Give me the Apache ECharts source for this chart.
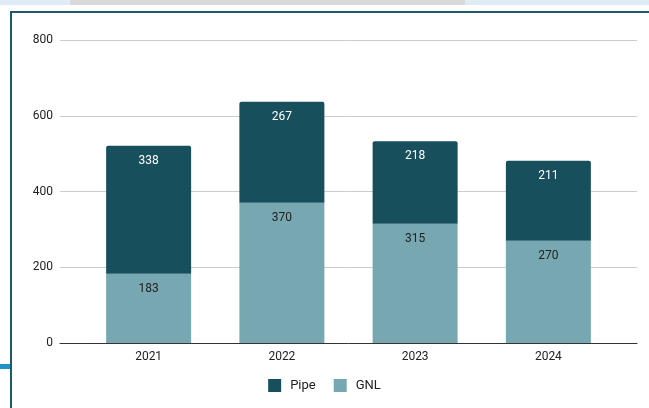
<!DOCTYPE html>
<html>
<head>
  <meta charset="UTF-8">
  <title>Pipe / GNL</title>
  <script src="https://cdn.jsdelivr.net/npm/echarts@6/dist/echarts.min.js"></script>
  <style>
    body { margin: 0; padding: 0; background: #fff; }
    #chart { width: 649px; height: 408px; }
  </style>
</head>
<body>
  <div id="chart"></div>
  <script>
    // data
    const years = ['2021', '2022', '2023', '2024'];
    const gnl = [183, 370, 315, 270];
    const pipe = [338, 267, 218, 211];
    const yTicks = [0, 200, 400, 600, 800];

    const pipeColor = '#174f5c';
    const gnlColor = '#77a7b1';
    const font = 'Roboto, Arial, sans-serif';

    const chart = echarts.init(document.getElementById('chart'));

    const option = {
      animation: false,
      textStyle: { fontFamily: font },
      // bits of the surrounding page frame
      graphic: [
        { type: 'rect', shape: { x: 0, y: 0, width: 649, height: 5 }, style: { fill: '#dfecf6' } },
        { type: 'rect', shape: { x: 70, y: 0, width: 395, height: 5 }, style: { fill: '#d9d9d9' } },
        { type: 'rect', shape: { x: 10, y: 11, width: 639, height: 2 }, style: { fill: '#1a5a6a' } },
        { type: 'rect', shape: { x: 10, y: 11, width: 2, height: 397 }, style: { fill: '#1a5a6a' } },
        { type: 'rect', shape: { x: 0, y: 364, width: 10, height: 5 }, style: { fill: '#1c95c4' } }
      ],
      legend: {
        data: ['Pipe', 'GNL'],
        top: 379,
        left: 'center',
        padding: 0,
        itemWidth: 13,
        itemHeight: 13,
        itemGap: 18,
        icon: 'rect',
        textStyle: { color: '#222', fontSize: 13, padding: [0, 0, 0, 4] }
      },
      grid: [
        { left: 60, right: 12, top: 40, bottom: 65 },
        { left: 82, right: 34, top: 40, bottom: 65 }
      ],
      xAxis: [
        {
          type: 'value', gridIndex: 0, min: 0, max: 1,
          axisLine: { show: true, onZero: false, lineStyle: { color: '#333', width: 1 } },
          axisTick: { show: false }, axisLabel: { show: false }, splitLine: { show: false }
        },
        {
          type: 'category', gridIndex: 1, data: years,
          axisLine: { show: false }, axisTick: { show: false },
          axisLabel: { color: '#222', fontSize: 12, margin: 8 }
        }
      ],
      yAxis: [
        {
          type: 'value', gridIndex: 0, min: yTicks[0], max: yTicks[yTicks.length - 1], interval: 200,
          axisLine: { show: false }, axisTick: { show: false },
          axisLabel: { color: '#222', fontSize: 12, margin: 7 },
          splitLine: { lineStyle: { color: '#cccccc' } }
        },
        {
          type: 'value', gridIndex: 1, min: 0, max: 800, show: false
        }
      ],
      series: [
        {
          name: 'GNL', type: 'bar', stack: 'total',
          xAxisIndex: 1, yAxisIndex: 1,
          barWidth: 85,
          data: gnl,
          itemStyle: { color: gnlColor },
          label: { show: true, position: 'insideTop', distance: 9, color: '#222', fontSize: 12 }
        },
        {
          name: 'Pipe', type: 'bar', stack: 'total',
          xAxisIndex: 1, yAxisIndex: 1,
          barWidth: 85,
          data: pipe,
          itemStyle: { color: pipeColor, borderRadius: [2, 2, 0, 0] },
          label: { show: true, position: 'insideTop', distance: 9, color: '#fff', fontSize: 12 }
        }
      ]
    };

    chart.setOption(option);
  </script>
</body>
</html>
